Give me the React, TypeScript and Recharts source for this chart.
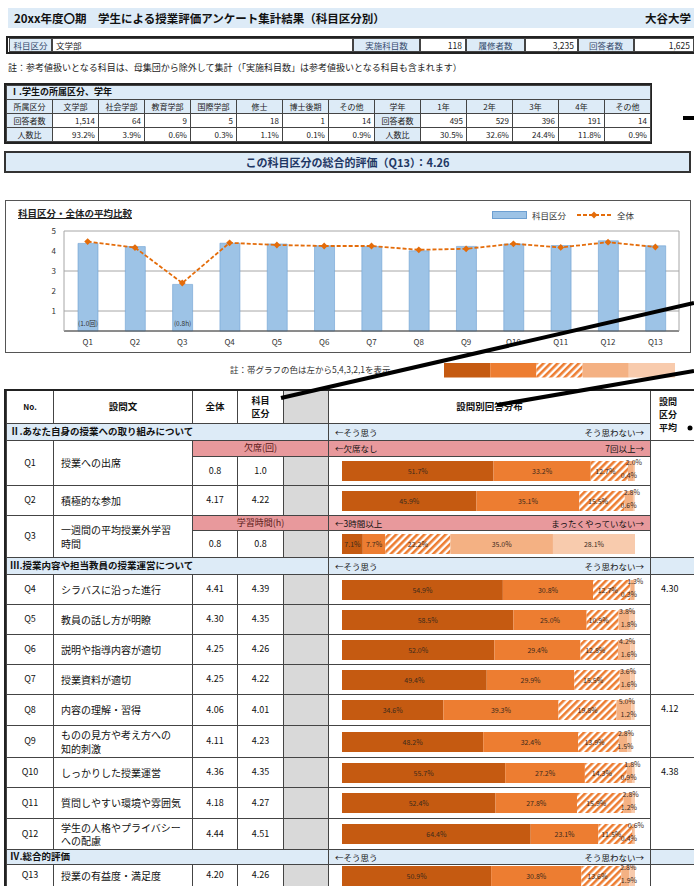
import React from 'react'
import { BarChart, Bar, ComposedChart, Line, XAxis, YAxis, CartesianGrid, LabelList } from 'recharts'

const FONT = '"Noto Sans CJK JP", "Noto Sans", sans-serif'

// header block
const pageTitle = '20xx年度〇期　学生による授業評価アンケート集計結果（科目区分別）'
const schoolName = '大谷大学'
const infoLabels = ['科目区分', '実施科目数', '履修者数', '回答者数']
const infoValues = ['文学部', '118', '3,235', '1,625']
const topNote = '註：参考値扱いとなる科目は、母集団から除外して集計（「実施科目数」は参考値扱いとなる科目も含まれます）'

// table I
const tableITitle = 'Ⅰ.学生の所属区分、学年'
const rowHeadsA = ['所属区分', '回答者数', '人数比']
const facultyHeads = ['文学部', '社会学部', '教育学部', '国際学部', '修士', '博士後期', 'その他']
const facultyCounts = ['1,514', '64', '9', '5', '18', '1', '14']
const facultyRatios = ['93.2%', '3.9%', '0.6%', '0.3%', '1.1%', '0.1%', '0.9%']
const rowHeadsB = ['学年', '回答者数', '人数比']
const gradeHeads = ['1年', '2年', '3年', '4年', 'その他']
const gradeCounts = ['495', '529', '396', '191', '14']
const gradeRatios = ['30.5%', '32.6%', '24.4%', '11.8%', '0.9%']

const summaryText = 'この科目区分の総合的評価（Q13）：4.26'

// average chart
const chartTitle = '科目区分・全体の平均比較'
const qLabels = ['Q1', 'Q2', 'Q3', 'Q4', 'Q5', 'Q6', 'Q7', 'Q8', 'Q9', 'Q10', 'Q11', 'Q12', 'Q13']
const chartCategory = [4.38, 4.22, 2.33, 4.39, 4.35, 4.26, 4.22, 4.01, 4.23, 4.35, 4.27, 4.51, 4.26]
const chartOverall = [4.47, 4.17, 2.4, 4.41, 4.3, 4.25, 4.25, 4.06, 4.11, 4.36, 4.18, 4.44, 4.2]
const chartNotes = ['(1.0回)', '', '(0.8h)', '', '', '', '', '', '', '', '', '', '']
const bandNote = '註：帯グラフの色は左から5,4,3,2,1を表示'
const legendSteps = [1, 1, 1, 1, 1]

// main table
const sectionTitles = ['Ⅱ.あなた自身の授業への取り組みについて', 'Ⅲ.授業内容や担当教員の授業運営について', 'Ⅳ.総合的評価']
const qTexts = [
  ['授業への出席'], ['積極的な参加'], ['一週間の平均授業外学習', '時間'], ['シラバスに沿った進行'],
  ['教員の話し方が明瞭'], ['説明や指導内容が適切'], ['授業資料が適切'], ['内容の理解・習得'],
  ['ものの見方や考え方への', '知的刺激'], ['しっかりした授業運営'], ['質問しやすい環境や雰囲気'],
  ['学生の人格やプライバシー', 'への配慮'], ['授業の有益度・満足度'],
]
const overallScores = ['0.8', '4.17', '0.8', '4.41', '4.30', '4.25', '4.25', '4.06', '4.11', '4.36', '4.18', '4.44', '4.20']
const categoryScores = ['1.0', '4.22', '0.8', '4.39', '4.35', '4.26', '4.22', '4.01', '4.23', '4.35', '4.27', '4.51', '4.26']
const dist5 = [51.7, 45.9, 7.1, 54.9, 58.5, 52.0, 49.4, 34.6, 48.2, 55.7, 52.4, 64.4, 50.9]
const dist4 = [33.2, 35.1, 7.7, 30.8, 25.0, 29.4, 29.9, 39.3, 32.4, 27.2, 27.8, 23.1, 30.8]
const dist3 = [12.7, 15.5, 22.2, 12.7, 10.9, 12.8, 15.5, 19.8, 13.9, 14.3, 15.9, 11.5, 13.6]
const dist2 = [2.0, 2.8, 35.0, 1.3, 3.8, 4.2, 3.6, 5.0, 2.8, 1.8, 2.8, 0.6, 2.8]
const dist1 = [0.4, 0.6, 28.1, 0.3, 1.8, 1.6, 1.6, 1.2, 1.5, 0.9, 1.2, 0.4, 1.9]
const subHeads = [
  { q: 0, mid: '欠席(回)', left: '←欠席なし', right: '7回以上→' },
  { q: 2, mid: '学習時間(h)', left: '←3時間以上', right: 'まったくやっていない→' },
]
const scaleLeft = '←そう思う'
const scaleRight = 'そう思わない→'
const groupAverages = ['4.30', '4.12', '4.38']

const BLUE = '#ddebf7'
const PINK = '#e8999c'
const GRAY = '#d9d9d9'
const SEGMENTS = [
  { key: 's5', rank: 5, fill: '#c55a11' },
  { key: 's4', rank: 4, fill: '#ed7d31' },
  { key: 's3', rank: 3, fill: 'url(#hatch)' },
  { key: 's2', rank: 2, fill: '#f4b183' },
  { key: 's1', rank: 1, fill: '#f8cbad' },
]

function Cell({ x, y, w, h, bg = '#fff', align = 'center', bold = false, size = 9, color = '#111', border = '1px solid #444', pad = 3, top = 0, lh = 1.2, children }: any) {
  return (
    <div style={{
      position: 'absolute', left: x, top: y, width: w + 1, height: h + 1, boxSizing: 'border-box', border, background: bg,
      display: 'flex', alignItems: top ? 'flex-start' : 'center', paddingTop: top,
      justifyContent: align === 'left' ? 'flex-start' : align === 'right' ? 'flex-end' : align === 'between' ? 'space-between' : 'center',
      paddingLeft: pad, paddingRight: pad, fontSize: size, fontWeight: bold ? 700 : 400, color, lineHeight: lh,
      whiteSpace: 'nowrap', overflow: 'hidden', textAlign: align === 'center' ? 'center' : 'left',
    }}>{children}</div>
  )
}

const boxOf = (p: any) => {
  const vb = p.viewBox ?? {}
  return { x: Number(p.x ?? vb.x), y: Number(p.y ?? vb.y), w: Number(p.width ?? vb.width), h: Number(p.height ?? vb.height) }
}

const segLabel = (rank: number) => (p: any) => {
  const { x, y, w, h } = boxOf(p)
  const v = Number(p.value)
  if (!v || isNaN(x)) return null
  let tx = x + w / 2, ty = y + h / 2 + 3, anchor: any = 'middle'
  if (v < 6 && rank === 2) { tx = x + w / 2 + 3; ty = y + 4 }
  if (v < 6 && rank === 1) { tx = x + w + 2; anchor = 'end'; ty = y + h / 2 + 7 }
  if (v < 17 && rank === 3) { tx = x + w / 2 - 4; ty = y + h / 2 + 2.5 }
  return <text x={tx} y={ty} fontSize={7} fill="#3b2a1c" textAnchor={anchor} fontFamily={FONT}>{v.toFixed(1)}%</text>
}

function DistBar({ i, h }: { i: number; h: number }) {
  const data = [{ q: qLabels[i], s5: dist5[i], s4: dist4[i], s3: dist3[i], s2: dist2[i], s1: dist1[i] }]
  return (
    <BarChart width={322} height={h + 14} data={data} layout="vertical" margin={{ top: 7, right: 15, bottom: 7, left: 14 }}>
      <XAxis type="number" domain={[0, 100]} allowDataOverflow hide />
      <YAxis type="category" dataKey="q" hide />
      {SEGMENTS.map(s => (
        <Bar key={s.key} dataKey={s.key} stackId="d" fill={s.fill} barSize={20} isAnimationActive={false}>
          <LabelList dataKey={s.key} content={segLabel(s.rank)} />
        </Bar>
      ))}
    </BarChart>
  )
}

function LegendStrip() {
  const data = [{ k: 'legend', s5: legendSteps[0], s4: legendSteps[1], s3: legendSteps[2], s2: legendSteps[3], s1: legendSteps[4] }]
  return (
    <BarChart width={231} height={16} data={data} layout="vertical" margin={{ top: 0, right: 0, bottom: 0, left: 0 }}>
      <XAxis type="number" domain={[0, 5]} hide />
      <YAxis type="category" dataKey="k" hide />
      {SEGMENTS.map(s => (
        <Bar key={s.key} dataKey={s.key} stackId="l" fill={s.fill} barSize={16} isAnimationActive={false} />
      ))}
    </BarChart>
  )
}

const Diamond = (p: any) => {
  const { cx, cy, index } = p
  if (cx == null || cy == null) return null
  const r = 3.4
  return <polygon key={index} points={`${cx},${cy - r} ${cx + r},${cy} ${cx},${cy + r} ${cx - r},${cy}`} fill="#e46c0a" />
}

const noteLabel = (p: any) => {
  const { x, y, w, h } = boxOf(p)
  const t = chartNotes[p.index]
  if (!t || isNaN(x)) return null
  return <text x={x + w / 2} y={y + h - 5} fontSize={6.5} fill="#333" textAnchor="middle" fontFamily={FONT}>{t}</text>
}

function AverageChart() {
  const data = qLabels.map((q, i) => ({ q, cat: chartCategory[i], all: chartOverall[i] }))
  const tick = { fontSize: 8, fill: '#333', fontFamily: FONT }
  return (
    <ComposedChart width={685} height={150} data={data} margin={{ top: 28, right: 10, bottom: 4, left: 29 }}>
      <CartesianGrid vertical={false} stroke="#a6a6a6" />
      <XAxis dataKey="q" tick={tick} axisLine={{ stroke: '#444' }} tickLine={false} height={18} />
      <YAxis domain={[0, 5]} ticks={[0, 1, 2, 3, 4, 5]} tickFormatter={(v: number) => (v === 0 ? '' : String(v))}
        tick={tick} axisLine={{ stroke: '#a6a6a6' }} tickLine={false} width={30} />
      <YAxis yAxisId="r" orientation="right" domain={[0, 5]} tick={false} tickLine={false} axisLine={{ stroke: '#a6a6a6' }} width={1} />
      <Bar dataKey="cat" fill="#9dc3e6" stroke="#6d9fd1" strokeWidth={0.6} barSize={20} isAnimationActive={false}>
        <LabelList dataKey="cat" content={noteLabel} />
      </Bar>
      <Line type="linear" dataKey="all" stroke="#e46c0a" strokeWidth={1.8} strokeDasharray="4 2" dot={Diamond} isAnimationActive={false} />
    </ComposedChart>
  )
}

// main table column edges
const C = [6, 53, 192, 237, 283, 328, 650, 700]
const W = (a: number, b: number) => C[b] - C[a]
const qRowY = [456, 485, 530, 574, 604, 634, 664, 694, 725, 757, 787, 818, 864]
const qRowH = [29, 30, 27, 30, 30, 30, 30, 31, 32, 30, 31, 31, 22]
const secRowY = [423, 557, 849]
const secRowH = [17, 17, 15]
const subRowY = [440, 515]
const subRowH = [16, 15]
const groupY = [574, 694, 757]
const groupH = [120, 63, 92]

function MainTable() {
  const cells: any[] = []
  // header
  cells.push(<Cell key="h0" x={C[0]} y={390} w={W(0, 1)} h={33} bold size={8}>No.</Cell>)
  cells.push(<Cell key="h1" x={C[1]} y={390} w={W(1, 2)} h={33} bold size={9.5}>設問文</Cell>)
  cells.push(<Cell key="h2" x={C[2]} y={390} w={W(2, 3)} h={33} bold size={9.5}>全体</Cell>)
  cells.push(<Cell key="h3" x={C[3]} y={390} w={W(3, 4)} h={33} bold size={9} lh={1.5}><span>科目<br />区分</span></Cell>)
  cells.push(<Cell key="h4" x={C[4]} y={390} w={W(4, 5)} h={33} bg={GRAY} />)
  cells.push(<Cell key="h5" x={C[5]} y={390} w={W(5, 6)} h={33} bold size={9.5}>設問別回答分布</Cell>)
  cells.push(<Cell key="h6" x={C[6]} y={390} w={W(6, 7)} h={50} bold size={9} align="left" top={4} pad={8} lh={1.45}><span>設問<br />区分<br />平均</span></Cell>)

  sectionTitles.forEach((t, s) => {
    const y = secRowY[s], h = secRowH[s]
    cells.push(<Cell key={'s' + s} x={C[0]} y={y} w={W(0, 5)} h={h} bg={BLUE} bold size={9.5} align="left">{t}</Cell>)
    cells.push(<Cell key={'sr' + s} x={C[5]} y={y} w={W(5, 6)} h={h} bg={BLUE} size={8.5} align="between" pad={6}><span>{scaleLeft}</span><span>{scaleRight}</span></Cell>)
    if (s > 0) cells.push(<Cell key={'sg' + s} x={C[6]} y={y} w={W(6, 7)} h={h} bg={BLUE} />)
  })

  qLabels.forEach((q, i) => {
    const sub = subHeads.findIndex(d => d.q === i)
    const y = qRowY[i], h = qRowH[i]
    const ty = sub >= 0 ? subRowY[sub] : y
    const th = sub >= 0 ? subRowH[sub] + h : h
    cells.push(<Cell key={'n' + i} x={C[0]} y={ty} w={W(0, 1)} h={th} size={9}>{q}</Cell>)
    cells.push(
      <Cell key={'t' + i} x={C[1]} y={ty} w={W(1, 2)} h={th} size={10} align="left" pad={7} lh={1.35}>
        <span>{qTexts[i].map((l, k) => <React.Fragment key={k}>{k > 0 && <br />}{l}</React.Fragment>)}</span>
      </Cell>
    )
    if (sub >= 0) {
      const d = subHeads[sub]
      cells.push(<Cell key={'pm' + i} x={C[2]} y={subRowY[sub]} w={W(2, 5)} h={subRowH[sub]} bg={PINK} size={9} color="#5a1a1a">{d.mid}</Cell>)
      cells.push(<Cell key={'pr' + i} x={C[5]} y={subRowY[sub]} w={W(5, 6)} h={subRowH[sub]} bg={PINK} size={8.5} align="between" pad={6}><span>{d.left}</span><span>{d.right}</span></Cell>)
    }
    cells.push(<Cell key={'o' + i} x={C[2]} y={y} w={W(2, 3)} h={h} size={9}>{overallScores[i]}</Cell>)
    cells.push(<Cell key={'c' + i} x={C[3]} y={y} w={W(3, 4)} h={h} size={9}>{categoryScores[i]}</Cell>)
    cells.push(<Cell key={'g' + i} x={C[4]} y={y} w={W(4, 5)} h={h} bg={GRAY} />)
    cells.push(
      <div key={'b' + i} style={{ position: 'absolute', left: C[5], top: y, width: W(5, 6) + 1, height: h + 1, border: '1px solid #444', boxSizing: 'border-box', background: '#fff' }} />
    )
  })

  // bars go above the cell frames so their small labels may overhang
  const bars = qLabels.map((q, i) => (
    <div key={'bb' + i} style={{ position: 'absolute', left: C[5], top: qRowY[i] - 7 }}><DistBar i={i} h={qRowH[i] + 1} /></div>
  ))

  cells.push(<Cell key="ga" x={C[6]} y={440} w={W(6, 7)} h={117} />)
  groupAverages.forEach((v, k) => {
    cells.push(<Cell key={'ga' + k} x={C[6]} y={groupY[k]} w={W(6, 7)} h={groupH[k]} size={9} align="left" pad={10} top={9}>{v}</Cell>)
  })
  cells.push(<Cell key="gz" x={C[6]} y={864} w={W(6, 7)} h={26} />)

  return (
    <>
      {cells}
      {bars}
      <div style={{ position: 'absolute', left: 4, top: 389, width: 700, height: 510, border: '2px solid #222', boxSizing: 'border-box', pointerEvents: 'none' }} />
    </>
  )
}

function TableI() {
  const x0 = 6, cw = 46, y0 = 99, rh = 14
  const rows = [
    [rowHeadsA[0], ...facultyHeads, rowHeadsB[0], ...gradeHeads],
    [rowHeadsA[1], ...facultyCounts, rowHeadsB[1], ...gradeCounts],
    [rowHeadsA[2], ...facultyRatios, rowHeadsB[2], ...gradeRatios],
  ]
  return (
    <>
      <div style={{ position: 'absolute', left: 4, top: 83, width: 648, height: 61, border: '2px solid #222', boxSizing: 'border-box' }} />
      <Cell x={x0} y={85} w={14 * cw} h={14} bg={BLUE} bold size={9} align="left">{tableITitle}</Cell>
      {rows.map((r, ri) => r.map((t, ci) => {
        const head = ri === 0 || ci === 0 || ci === 8
        return (
          <Cell key={ri + '-' + ci} x={x0 + ci * cw} y={y0 + ri * rh} w={cw} h={rh} bg={head ? BLUE : '#fff'}
            size={8} align={head ? 'center' : 'right'} color="#222">{t}</Cell>
        )
      }))}
    </>
  )
}

function InfoRow() {
  const cols = [[9, 52], [52, 353], [353, 420], [420, 466], [466, 525], [525, 578], [578, 634], [634, 694]]
  return (
    <>
      <div style={{ position: 'absolute', left: 6, top: 36, width: 700, height: 18, border: '2px solid #222', boxSizing: 'border-box' }} />
      {cols.map(([a, b], k) => {
        const isLabel = k % 2 === 0
        const idx = Math.floor(k / 2)
        return (
          <Cell key={k} x={a} y={38} w={b - a - 1} h={13} bg={isLabel ? BLUE : '#fff'} size={8.5}
            align={isLabel ? 'center' : k === 1 ? 'left' : 'right'} color={isLabel ? '#34496b' : '#222'}>
            {isLabel ? infoLabels[idx] : infoValues[idx]}
          </Cell>
        )
      })}
    </>
  )
}

export default function App() {
  return (
    <div style={{ position: 'absolute', left: 0, top: 0, width: 694, height: 886, overflow: 'hidden', background: '#fff', fontFamily: FONT, color: '#111' }}>
      <svg width={0} height={0} style={{ position: 'absolute' }}>
        <defs>
          <pattern id="hatch" width={5} height={5} patternUnits="userSpaceOnUse" patternTransform="rotate(45)">
            <rect width={5} height={5} fill="#ffffff" />
            <rect width={2.6} height={5} fill="#ed7d31" />
          </pattern>
        </defs>
      </svg>

      <div style={{ position: 'absolute', left: 8, top: 8, width: 686, height: 20, background: BLUE, display: 'flex', alignItems: 'center', justifyContent: 'space-between', padding: '0 3px 0 6px', boxSizing: 'border-box', fontSize: 11.5, fontWeight: 700 }}>
        <span>{pageTitle}</span><span>{schoolName}</span>
      </div>

      <InfoRow />

      <div style={{ position: 'absolute', left: 8, top: 61, fontSize: 9, color: '#222', whiteSpace: 'nowrap' }}>{topNote}</div>

      <TableI />

      <div style={{ position: 'absolute', left: 4, top: 151, width: 687, height: 22, border: '2px solid #333', boxSizing: 'border-box', background: BLUE, display: 'flex', alignItems: 'center', justifyContent: 'center', fontSize: 11, fontWeight: 700, color: '#1f3864' }}>
        {summaryText}
      </div>

      <div style={{ position: 'absolute', left: 5, top: 200, width: 686, height: 153, border: '1.5px solid #555', boxSizing: 'border-box', background: '#fff' }} />
      <div style={{ position: 'absolute', left: 5, top: 203 }}><AverageChart /></div>
      <div style={{ position: 'absolute', left: 18, top: 206, fontSize: 9.5, fontWeight: 700, textDecoration: 'underline', color: '#222' }}>{chartTitle}</div>
      <div style={{ position: 'absolute', left: 492, top: 209, display: 'flex', alignItems: 'center', fontSize: 8.5, color: '#333' }}>
        <span style={{ width: 33, height: 6, background: '#9dc3e6', border: '0.6px solid #6d9fd1', marginRight: 5 }} />
        <span style={{ marginRight: 10 }}>科目区分</span>
        <svg width={36} height={10}><line x1={1} y1={5} x2={35} y2={5} stroke="#e46c0a" strokeWidth={1.8} strokeDasharray="4 2" /><polygon points="18,1.6 21.4,5 18,8.4 14.6,5" fill="#e46c0a" /></svg>
        <span style={{ marginLeft: 5 }}>全体</span>
      </div>

      <div style={{ position: 'absolute', left: 230, top: 363, fontSize: 8.5, color: '#333', whiteSpace: 'nowrap' }}>{bandNote}</div>
      <div style={{ position: 'absolute', left: 444, top: 362 }}><LegendStrip /></div>

      <MainTable />

      {/* callout strokes drawn on the page */}
      <svg width={694} height={886} style={{ position: 'absolute', left: 0, top: 0, pointerEvents: 'none' }}>
        <line x1={683} y1={118} x2={694} y2={118} stroke="#000" strokeWidth={4} />
        <line x1={281} y1={398} x2={694} y2={303} stroke="#000" strokeWidth={4} />
        <line x1={497} y1={405} x2={694} y2={371} stroke="#000" strokeWidth={4} />
        <circle cx={690} cy={428} r={2.5} fill="#000" />
      </svg>
    </div>
  )
}
